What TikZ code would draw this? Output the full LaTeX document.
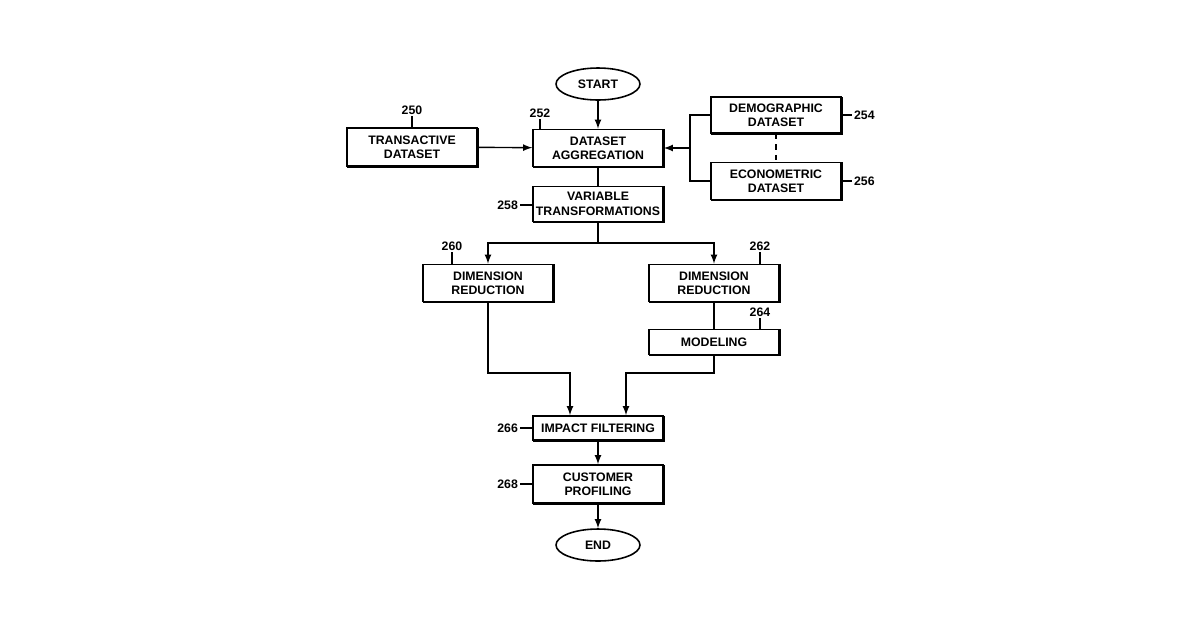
\documentclass[tikz,border=0pt]{standalone}
\usepackage{fontspec}
\setmainfont{Liberation Sans}
\usetikzlibrary{shapes.geometric,calc}
\tikzset{
  box/.style={draw,line width=0.9pt,fill=white,align=center,inner sep=1pt,
    font=\bfseries\fontsize{7}{8.2}\selectfont,minimum width=2.6cm},
  shadowed/.style={box,preaction={draw,line width=1.3pt,transform canvas={xshift=0.4pt,yshift=-0.4pt}}},
  term/.style={draw,ellipse,line width=0.9pt,font=\bfseries\fontsize{7}{8}\selectfont,minimum width=1.68cm,minimum height=0.64cm},
  ref/.style={font=\bfseries\fontsize{7}{8}\selectfont,inner sep=1pt},
  flow/.style={line width=0.8pt},
  arr/.style={flow,-latex},
}
\begin{document}
\begin{tikzpicture}[x=0.02cm,y=-0.02cm]
\useasboundingbox (0,0) rectangle (1200,630);
% terminals
\node[term] (start) at (598,84) {START};
\node[term] (end) at (598,545) {END};
% data sources
\node[shadowed,minimum height=0.76cm] (trans) at (412,147) {TRANSACTIVE\\DATASET};
\node[shadowed,minimum height=0.74cm] (agg) at (598,148) {DATASET\\AGGREGATION};
\node[shadowed,minimum height=0.72cm] (demo) at (776,115) {DEMOGRAPHIC\\DATASET};
\node[shadowed,minimum height=0.74cm] (econ) at (776,181) {ECONOMETRIC\\DATASET};
\node[shadowed,minimum height=0.7cm] (var) at (598,204) {VARIABLE\\TRANSFORMATIONS};
% branches
\node[shadowed,minimum height=0.74cm] (dimA) at (488,283) {DIMENSION\\REDUCTION};
\node[shadowed,minimum height=0.74cm] (dimB) at (714,283) {DIMENSION\\REDUCTION};
\node[shadowed,minimum height=0.5cm] (model) at (714,342) {MODELING};
\node[shadowed,minimum height=0.48cm] (impact) at (598,428) {IMPACT FILTERING};
\node[shadowed,minimum height=0.76cm] (prof) at (598,484) {CUSTOMER\\PROFILING};
% connectors
\draw[arr] (start) -- (agg);
\draw[arr] (trans) -- (agg);
\coordinate (joint) at (690,148);
\draw[flow] (demo.west) -| (joint) |- (econ.west);
\draw[arr] (joint) -- (agg.east);
\draw[flow,dashed] (demo) -- (econ);
\draw[flow] (agg) -- (var);
\coordinate (split) at (598,243);
\draw[flow] (var) -- (split);
\draw[arr] (split) -| (dimA.north);
\draw[arr] (split) -| (dimB.north);
\draw[flow] (dimB) -- (model);
\draw[arr] (dimA.south) |- (570,373) -- (impact.north -| 570,0);
\draw[arr] (model.south) |- (626,373) -- (impact.north -| 626,0);
\draw[arr] (impact) -- (prof);
\draw[arr] (prof) -- (end);
% reference numerals
\node[ref] (r250) at (412,110) {250};
\draw[flow] (r250.south) -- (trans.north);
\node[ref] (r252) at (540,113) {252};
\draw[flow] (r252.south) -- (r252.south |- agg.north);
\node[ref,anchor=west] (r254) at (852,115) {254};
\draw[flow] (demo.east) -- (r254.west);
\node[ref,anchor=west] (r256) at (852,181) {256};
\draw[flow] (econ.east) -- (r256.west);
\node[ref,anchor=east] (r258) at (520,205) {258};
\draw[flow] (r258.east) -- (var.west |- r258.east);
\node[ref] (r260) at (452,246) {260};
\draw[flow] (r260.south) -- (r260.south |- dimA.north);
\node[ref] (r262) at (760,246) {262};
\draw[flow] (r262.south) -- (r262.south |- dimB.north);
\node[ref] (r264) at (760,312) {264};
\draw[flow] (r264.south) -- (r264.south |- model.north);
\node[ref,anchor=east] (r266) at (520,428) {266};
\draw[flow] (r266.east) -- (impact.west |- r266.east);
\node[ref,anchor=east] (r268) at (520,484) {268};
\draw[flow] (r268.east) -- (prof.west |- r268.east);
\end{tikzpicture}
\end{document}
